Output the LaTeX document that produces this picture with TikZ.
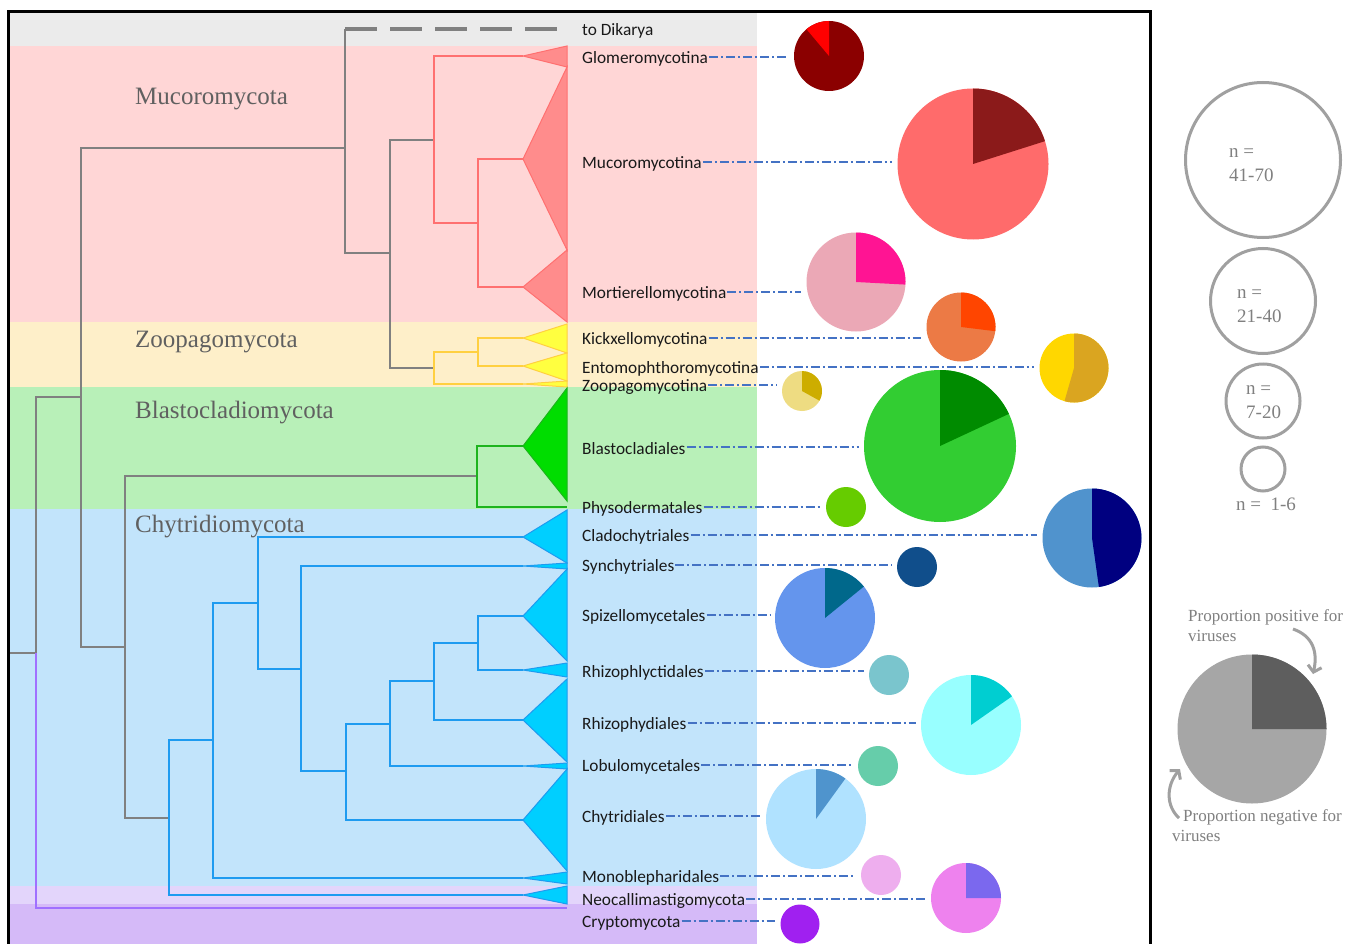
\documentclass[tikz,border=0pt]{standalone}
\usepackage{fontspec}
\setmainfont{Liberation Serif}
\newfontfamily\labfont{Carlito}
\usetikzlibrary{arrows.meta}
\definecolor{bgray}{HTML}{EBEBEB}
\definecolor{bpink}{HTML}{FFD6D6}
\definecolor{byel}{HTML}{FEEFC9}
\definecolor{bgreen}{HTML}{B8F0B8}
\definecolor{bblue}{HTML}{C2E4FB}
\definecolor{blpur}{HTML}{E3D5FB}
\definecolor{bpur}{HTML}{D5BAF8}
\definecolor{tgray}{HTML}{808080}
\definecolor{tred}{HTML}{FF7070}
\definecolor{fred}{HTML}{FF8C8C}
\definecolor{tyel}{HTML}{FFD040}
\definecolor{fyel}{HTML}{FFFF40}
\definecolor{tgreen}{HTML}{1DB41D}
\definecolor{fgreen}{HTML}{00DD00}
\definecolor{tblue}{HTML}{1E9BF0}
\definecolor{fblue}{HTML}{00CFFF}
\definecolor{tpur}{HTML}{A070FF}
\definecolor{conn}{HTML}{4472C4}
\definecolor{clade}{HTML}{606060}
\definecolor{lgray}{HTML}{A0A0A0}
\definecolor{ltext}{HTML}{808080}
% pie colours
\definecolor{pglom}{HTML}{8B0000}
\definecolor{pglop}{HTML}{FF0000}
\definecolor{pmucm}{HTML}{FF6B6B}
\definecolor{pmucp}{HTML}{8B1A1A}
\definecolor{pmorm}{HTML}{EBA8B6}
\definecolor{pmorp}{HTML}{FF1493}
\definecolor{pkicm}{HTML}{EC7A45}
\definecolor{pkicp}{HTML}{FF4500}
\definecolor{pentm}{HTML}{FFD700}
\definecolor{pentp}{HTML}{DAA520}
\definecolor{pzoom}{HTML}{EEDC82}
\definecolor{pzoop}{HTML}{CDAD00}
\definecolor{pblam}{HTML}{32CD32}
\definecolor{pblap}{HTML}{008B00}
\definecolor{pphym}{HTML}{66CC00}
\definecolor{pclam}{HTML}{5093CD}
\definecolor{pclap}{HTML}{000080}
\definecolor{psynm}{HTML}{104E8B}
\definecolor{pspim}{HTML}{6495ED}
\definecolor{pspip}{HTML}{00688B}
\definecolor{prhlm}{HTML}{7AC5CD}
\definecolor{prhdm}{HTML}{98FFFF}
\definecolor{prhdp}{HTML}{00CED1}
\definecolor{plobm}{HTML}{66CDAA}
\definecolor{pchym}{HTML}{B0E2FF}
\definecolor{pchyp}{HTML}{4F94CD}
\definecolor{pmonm}{HTML}{EEAEEE}
\definecolor{pneom}{HTML}{EE82EE}
\definecolor{pneop}{HTML}{7B68EE}
\definecolor{pcrym}{HTML}{A020F0}
\definecolor{lpm}{HTML}{A6A6A6}
\definecolor{lpp}{HTML}{5E5E5E}
\newcommand\tri[4]{\filldraw[#1] (523,#2) -- (567,#3) -- (567,#4) -- cycle;}
\newcommand\piechart[8]{%
  \node[pienode, minimum size=2*#4pt, fill=#5] (#1) at (#2,#3) {};
  \fill[#6] (#1.center) -- ++({-(#7)}:#4) arc[start angle={-(#7)}, end angle={-(#8)}, radius=#4] -- cycle;}
\newcommand\piedot[5]{\node[pienode, minimum size=2*#4pt, fill=#5] (#1) at (#2,#3) {};}
\begin{document}
\begin{tikzpicture}[x=1pt,y=-1pt,
  gt/.style={draw=tgray, line width=2pt},
  rt/.style={draw=tred, line width=2pt},
  yt/.style={draw=tyel, line width=2pt},
  grt/.style={draw=tgreen, line width=2pt},
  bt/.style={draw=tblue, line width=2pt},
  pt/.style={draw=tpur, line width=2pt},
  redtri/.style={fill=fred, draw=tred, line width=1pt},
  yeltri/.style={fill=fyel, draw=tyel, line width=1pt},
  greentri/.style={fill=fgreen, draw=tgreen, line width=1pt},
  bluetri/.style={fill=fblue, draw=tblue, line width=1pt},
  lab/.style={anchor=west, inner sep=1pt, font=\labfont\fontsize{17.3}{20}\selectfont, text=black!90},
  cladelab/.style={anchor=west, inner sep=0pt, font=\fontsize{25}{30}\selectfont, text=clade},
  dd/.style={draw=conn, line width=1.3pt, dash pattern=on 9pt off 3pt on 2pt off 3pt, shorten >=5pt},
  pienode/.style={circle, inner sep=0pt, draw=none},
  lgcirc/.style={circle, inner sep=0pt, draw=lgray, line width=3pt},
  lgtext/.style={inner sep=0pt, font=\fontsize{19}{24}\selectfont, text=ltext},
  proptext/.style={inner sep=0pt, font=\fontsize{17}{20}\selectfont, text=ltext, align=left},
  larrow/.style={draw=lgray, line width=3pt, -{Straight Barb[length=6pt,width=14pt]}}
]
\useasboundingbox (0,0) rectangle (1349,944);
\fill[white] (0,0) rectangle (1349,944);
% bands
\fill[bgray] (9,13) rectangle (757,46);
\fill[bpink] (9,46) rectangle (757,322);
\fill[byel] (9,322) rectangle (757,387);
\fill[bgreen] (9,387) rectangle (757,509);
\fill[bblue] (9,509) rectangle (757,886);
\fill[blpur] (9,886) rectangle (757,904);
\fill[bpur] (9,904) rectangle (757,946);
% backbone (gray)
\draw[gt] (10,653) -- (36,653);
\draw[gt] (36,653) -- (36,397) -- (81,397);
\draw[gt] (345,148) -| (81,647) -- (125,647);
\draw[gt] (345,29) -- (345,253) -- (390,253);
\draw[gt] (434,140) -| (390,368) -- (434,368);
\draw[gt] (477,476) -| (125,818) -- (169,818);
\coordinate (dk) at (345,29);
\node[lab] (dikarya) at (581,31) {to Dikarya};
\draw[draw=tgray, line width=4pt, dash pattern=on 32pt off 13pt, shorten >=22pt] (dk) -- (dk -| dikarya.west);
% Mucoromycota (red)
\draw[rt] (523,56) -| (434,223) -- (478,223);
\draw[rt] (523,159) -| (478,287) -- (523,287);
\tri{redtri}{56}{46}{67}
\tri{redtri}{159}{67}{250}
\tri{redtri}{287}{250}{322}
% Zoopagomycota (yellow)
\draw[yt] (478,352) -| (434,384) -- (523,384);
\draw[yt] (523,338) -| (478,366) -- (523,366);
\tri{yeltri}{338}{324}{353}
\tri{yeltri}{366}{353}{381}
\tri{yeltri}{384}{381}{387}
% Blastocladiomycota (green)
\draw[grt] (523,446) -| (477,507) -- (567,507);
\tri{greentri}{446}{388}{501}
% Chytridiomycota (blue)
\draw[bt] (213,740) -| (169,895) -- (523,895);
\draw[bt] (258,603) -| (213,878) -- (523,878);
\draw[bt] (523,537) -| (258,669) -- (301,669);
\draw[bt] (523,566) -| (301,771) -- (346,771);
\draw[bt] (390,724) -| (346,820) -- (523,820);
\draw[bt] (434,681) -| (390,766) -- (523,766);
\draw[bt] (478,643) -| (434,720) -- (523,720);
\draw[bt] (523,616) -| (478,670) -- (523,670);
\tri{bluetri}{537}{510}{563}
\tri{bluetri}{566}{563}{569}
\tri{bluetri}{616}{569}{661}
\tri{bluetri}{670}{663}{677}
\tri{bluetri}{720}{679}{762}
\tri{bluetri}{766}{763}{769}
\tri{bluetri}{820}{769}{871}
\tri{bluetri}{878}{872}{884}
\tri{bluetri}{895}{886}{904}
% Cryptomycota (purple)
\draw[pt] (36,653) -- (36,908) -- (567,908);
% clade names
\node[cladelab] (cmuc) at (135,99) {Mucoromycota};
\node[cladelab] (czoo) at (135,342) {Zoopagomycota};
\node[cladelab] (cbla) at (135,413) {Blastocladiomycota};
\node[cladelab] (cchy) at (135,527) {Chytridiomycota};
% labels
\node[lab] (glo) at (581,59) {Glomeromycotina};
\node[lab] (muc) at (581,164) {Mucoromycotina};
\node[lab] (mor) at (581,294) {Mortierellomycotina};
\node[lab] (kic) at (581,340) {Kickxellomycotina};
\node[lab] (ent) at (581,369) {Entomophthoromycotina};
\node[lab] (zoo) at (581,387) {Zoopagomycotina};
\node[lab] (bla) at (581,449) {Blastocladiales};
\node[lab] (phy) at (581,509) {Physodermatales};
\node[lab] (cla) at (581,537) {Cladochytriales};
\node[lab] (syn) at (581,567) {Synchytriales};
\node[lab] (spi) at (581,617) {Spizellomycetales};
\node[lab] (rhl) at (581,673) {Rhizophlyctidales};
\node[lab] (rhd) at (581,725) {Rhizophydiales};
\node[lab] (lob) at (581,767) {Lobulomycetales};
\node[lab] (chy) at (581,818) {Chytridiales};
\node[lab] (mon) at (581,878) {Monoblepharidales};
\node[lab] (neo) at (581,901) {Neocallimastigomycota};
\node[lab] (cry) at (581,923) {Cryptomycota};
% pies
\piechart{pglo}{829}{56}{35}{pglom}{pglop}{90}{130}
\piechart{pmuc}{973}{164}{75.5}{pmucm}{pmucp}{17.6}{90}
\piechart{pmor}{856}{282}{49.5}{pmorm}{pmorp}{-3}{90}
\piechart{pkic}{961}{327}{34.5}{pkicm}{pkicp}{-7}{90}
\piechart{pent}{1074}{368}{34.5}{pentm}{pentp}{-106}{90}
\piechart{pzoo}{802}{391}{20}{pzoom}{pzoop}{-29}{90}
\piechart{pbla}{940}{446}{76}{pblam}{pblap}{25}{90}
\piedot{pphy}{846}{507}{20}{pphym}
\piechart{pcla}{1092}{538}{49.5}{pclam}{pclap}{-82}{90}
\piedot{psyn}{917}{567}{20}{psynm}
\piechart{pspi}{825}{618}{50}{pspim}{pspip}{39}{90}
\piedot{prhl}{889}{675}{20}{prhlm}
\piechart{prhd}{971}{725}{50}{prhdm}{prhdp}{35}{90}
\piedot{plob}{878}{766}{20}{plobm}
\piechart{pchy}{816}{819}{50}{pchym}{pchyp}{54}{90}
\piedot{pmon}{881}{875}{20}{pmonm}
\piechart{pneo}{966}{898}{35}{pneom}{pneop}{0}{90}
\piedot{pcry}{800}{924}{19.5}{pcrym}
% connectors
\foreach \l/\p in {glo/pglo, muc/pmuc, mor/pmor, kic/pkic, ent/pent, zoo/pzoo, bla/pbla, phy/pphy, cla/pcla, syn/psyn, spi/pspi, rhl/prhl, rhd/prhd, lob/plob, chy/pchy, mon/pmon, neo/pneo, cry/pcry}
  \draw[dd] ([yshift=2pt]\l.east) -- ([yshift=2pt]\l.east -| \p.west);
% legend: sizes
\node[lgcirc, minimum size=155pt] (lc1) at (1263,160) {};
\node[lgcirc, minimum size=105pt] (lc2) at (1263,301) {};
\node[lgcirc, minimum size=74pt] (lc3) at (1263,401) {};
\node[lgcirc, minimum size=44pt] (lc4) at (1263,469) {};
\node[lgtext, anchor=west, align=left] (lt1) at (1229,165) {n =\\41-70};
\node[lgtext, anchor=west, align=left] (lt2) at (1237,306) {n =\\21-40};
\node[lgtext, anchor=west, align=left] (lt3) at (1246,402) {n =\\7-20};
\node[lgtext] (lt4) at (1266,504) {n =\ \ 1-6};
% legend: proportions
\piechart{lp}{1252}{729}{74.5}{lpm}{lpp}{0}{90}
\node[proptext, anchor=west] (ppos) at (1188,626) {Proportion positive for\\viruses};
\node[proptext, anchor=west] (pneg) at (1172,826) {\hspace*{11pt}Proportion negative for\\viruses};
\coordinate (a1s) at (1293,629);
\coordinate (a2s) at (1179,818);
\draw[larrow] (a1s) .. controls (1313,636) and (1318,652) .. (1313,674);
\draw[larrow] (a2s) .. controls (1166,806) and (1166,786) .. (1180,769);
% frame
\draw[line width=3pt] (8,12) rectangle (1150,950);
\end{tikzpicture}
\end{document}
